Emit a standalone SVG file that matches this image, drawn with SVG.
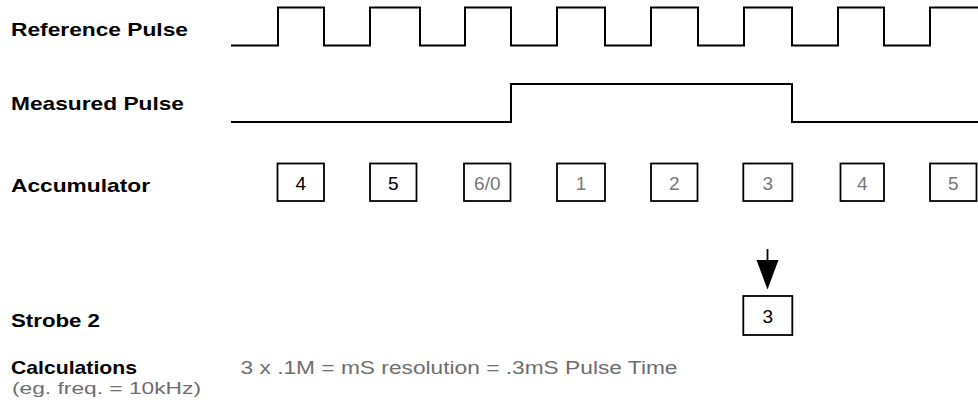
<svg xmlns="http://www.w3.org/2000/svg" width="978" height="406" viewBox="0 0 978 406">
<style>
.lbl{font-family:"Liberation Sans",Arial,sans-serif;font-weight:bold;font-size:19px;fill:#000}
.sub{font-family:"Liberation Sans",Arial,sans-serif;font-size:18px;fill:#6e6e6e}
.sub2{font-family:"Liberation Sans",Arial,sans-serif;font-size:17px;fill:#6e6e6e}
.wave{fill:none;stroke:#000;stroke-width:2}
.box{fill:#fff;stroke:#000;stroke-width:1.8}
.num{font-family:"Liberation Sans",Arial,sans-serif;font-size:19px;text-anchor:middle;fill:#777}
.num.k{fill:#000}
</style>
<rect width="978" height="406" fill="#fff"/>
<g id="labels">
<text class="lbl" x="11" y="36" textLength="177" lengthAdjust="spacingAndGlyphs">Reference Pulse</text>
<text class="lbl" x="11" y="110" textLength="173" lengthAdjust="spacingAndGlyphs">Measured Pulse</text>
<text class="lbl" x="11" y="192" textLength="139" lengthAdjust="spacingAndGlyphs">Accumulator</text>
<text class="lbl" x="11" y="326.5" textLength="89" lengthAdjust="spacingAndGlyphs">Strobe 2</text>
<text class="lbl" x="11" y="374" textLength="126" lengthAdjust="spacingAndGlyphs">Calculations</text>
<text class="sub2" x="12" y="394" textLength="189" lengthAdjust="spacingAndGlyphs">(eg. freq. = 10kHz)</text>
<text class="sub" x="240.5" y="374" textLength="437" lengthAdjust="spacingAndGlyphs">3 x .1M = mS resolution = .3mS Pulse Time</text>
</g>
<g id="reference-pulse">
<path class="wave" d="M231,45.5 H278 V7.5 H324 V45.5 H370 V7.5 H420 V45.5 H465 V7.5 H511 V45.5 H557 V7.5 H605 V45.5 H651 V7.5 H698 V45.5 H744 V7.5 H792 V45.5 H838 V7.5 H884 V45.5 H930 V7.5 H978"/>
</g>
<g id="measured-pulse">
<path class="wave" d="M231,122 H511 V84 H792 V122 H978"/>
</g>
<g id="acc-4a"><rect class="box" x="277.5" y="163.5" width="46.5" height="37.5"/><text class="num k" x="300.8" y="190">4</text></g>
<g id="acc-5a"><rect class="box" x="370" y="163.5" width="46.5" height="37.5"/><text class="num k" x="393.3" y="190">5</text></g>
<g id="acc-60"><rect class="box" x="464" y="163.5" width="46.5" height="37.5"/><text class="num" x="487.3" y="190">6/0</text></g>
<g id="acc-1"><rect class="box" x="557" y="163.5" width="48" height="37.5"/><text class="num" x="581" y="190">1</text></g>
<g id="acc-2"><rect class="box" x="651" y="163.5" width="46.5" height="37.5"/><text class="num" x="674.3" y="190">2</text></g>
<g id="acc-3"><rect class="box" x="743.3" y="163.5" width="49" height="37.5"/><text class="num" x="767.8" y="190">3</text></g>
<g id="acc-4b"><rect class="box" x="840.5" y="163.5" width="43.5" height="37.5"/><text class="num" x="862.3" y="190">4</text></g>
<g id="acc-5b"><rect class="box" x="930" y="163.5" width="46.5" height="37.5"/><text class="num" x="953.3" y="190">5</text></g>
<g id="strobe-3"><rect class="box" x="743.3" y="296" width="49" height="39"/><text class="num k" x="767.8" y="323">3</text></g>
<g id="connectors">
<line x1="767.5" y1="249" x2="767.5" y2="262" stroke="#000" stroke-width="1.8"/>
<polygon points="756.5,260 778.5,260 767.5,289.5" fill="#000"/>
</g>
</svg>
